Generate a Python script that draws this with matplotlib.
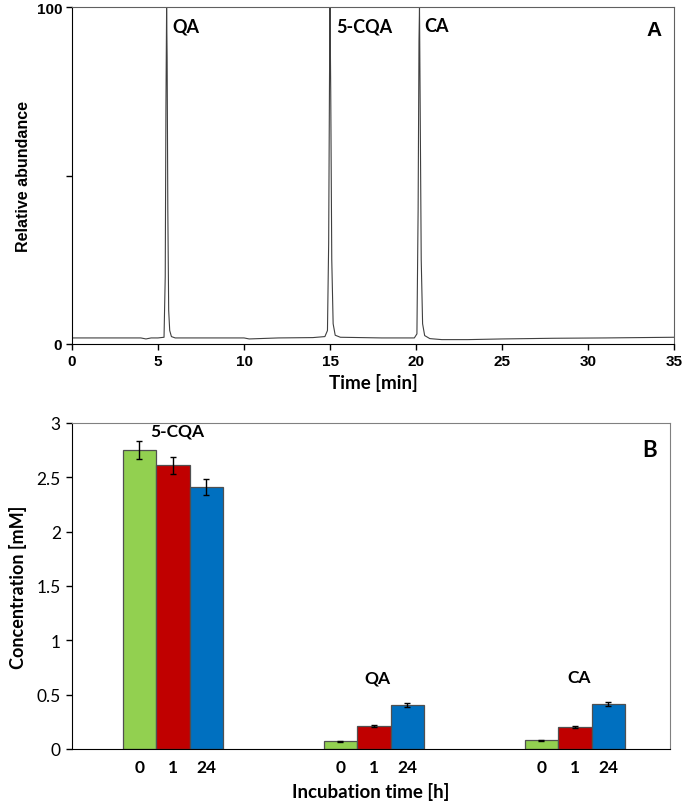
import matplotlib.pyplot as plt
import numpy as np

# chromatogram
time_min = [0.0, 2.0, 4.0, 4.3, 4.6, 5.0, 5.35, 5.42, 5.46, 5.5, 5.53, 5.57, 5.62, 5.68, 5.78, 6.0,
            8.0, 10.0, 10.3, 12.0, 14.0, 14.7, 14.85, 14.92, 14.97, 15.0, 15.04, 15.1, 15.18, 15.3, 15.6,
            18.0, 19.9, 20.05, 20.12, 20.17, 20.2, 20.24, 20.3, 20.38, 20.5, 20.8, 21.5, 23.0, 25.0,
            28.0, 31.0, 33.0, 35.0]
rel_abund = [1.8, 1.8, 1.8, 1.5, 1.8, 1.8, 2.0, 20.0, 70.0, 100.0, 85.0, 40.0, 10.0, 4.0, 2.2, 1.8,
             1.8, 1.8, 1.5, 1.8, 1.9, 2.2, 4.0, 30.0, 80.0, 100.0, 75.0, 25.0, 6.0, 2.6, 2.0,
             1.8, 1.8, 3.0, 40.0, 90.0, 100.0, 70.0, 25.0, 6.0, 2.5, 1.6, 1.3, 1.3, 1.5,
             1.7, 1.8, 1.9, 2.0]
peak_names = ['QA', '5-CQA', 'CA']
peak_label_x = [5.85, 15.35, 20.5]

# concentrations (panel B)
compounds = ['5-CQA', 'QA', 'CA']
hours = ['0', '1', '24']
conc_0h = [2.75, 0.07, 0.08]
conc_1h = [2.61, 0.215, 0.205]
conc_24h = [2.41, 0.405, 0.415]
err_0h = [0.085, 0.006, 0.006]
err_1h = [0.08, 0.01, 0.01]
err_24h = [0.077, 0.015, 0.02]
bar_colors = ['#92D050', '#C00000', '#0070C0']

calibri = ['Lato', 'DejaVu Sans']
arial = ['Liberation Sans', 'DejaVu Sans']

fig = plt.figure(figsize=(6.85, 8.04), dpi=100)

# ---- panel A ----
axA = fig.add_axes([0.1051, 0.5709, 0.879, 0.419])
axA.plot(time_min, rel_abund, color='#404040', lw=0.8)
axA.set_xlim(0, 35)
axA.set_ylim(0, 100)
axA.set_xticks(range(0, 36, 5))
axA.set_yticks([0, 50, 100])
axA.set_yticklabels(['0', '', '100'])
for lab in axA.get_xticklabels() + axA.get_yticklabels():
    lab.set_family(arial)
    lab.set_fontweight('bold')
    lab.set_fontsize(11)
axA.tick_params(direction='out', length=4, width=1, pad=3)
axA.set_xlabel('Time [min]', family=calibri, fontweight='bold', fontsize=13.5, labelpad=4)
axA.set_ylabel('Relative abundance', family=arial, fontweight='bold', fontsize=11.5, labelpad=4)
for name, x in zip(peak_names, peak_label_x):
    axA.text(x, 94.5, name, family=calibri, fontweight='bold', fontsize=13,
             va='center', ha='left')
axA.text(0.967, 0.935, 'A', transform=axA.transAxes, family=arial, fontweight='bold',
         fontsize=15, ha='center', va='center')
for s in ['top', 'right']:
    axA.spines[s].set_color('#606060')

# ---- panel B ----
axB = fig.add_axes([0.1051, 0.0672, 0.873, 0.4055])
w = 1 / 6
x = np.arange(len(compounds))
series = [(conc_0h, err_0h), (conc_1h, err_1h), (conc_24h, err_24h)]
tick_pos = []
tick_lab = []
for i, (vals, errs) in enumerate(series):
    pos = x + (i - 1) * w
    axB.bar(pos, vals, width=w, color=bar_colors[i], edgecolor='#505050', linewidth=0.9,
            yerr=errs, error_kw=dict(ecolor='black', elinewidth=1, capsize=2, capthick=1))
    tick_pos += list(pos)
    tick_lab += [hours[i]] * len(compounds)

axB.set_xlim(-0.502, 2.473)
axB.set_ylim(0, 3)
axB.set_yticks(np.arange(0, 3.01, 0.5))
axB.set_yticklabels(['0', '0.5', '1', '1.5', '2', '2.5', '3'])
axB.set_xticks(tick_pos)
axB.set_xticklabels(tick_lab)
for lab in axB.get_xticklabels():
    lab.set_family(calibri)
    lab.set_fontweight('bold')
    lab.set_fontsize(12.5)
for lab in axB.get_yticklabels():
    lab.set_family(calibri)
    lab.set_fontsize(12.5)
axB.tick_params(axis='x', length=0, pad=7)
axB.tick_params(axis='y', direction='out', length=4, width=1, pad=4)
axB.set_xlabel('Incubation time [h]', family=calibri, fontweight='bold', fontsize=13.5, labelpad=5)
axB.set_ylabel('Concentration [mM]', family=calibri, fontweight='bold', fontsize=13, labelpad=7)

label_y = [2.93, 0.66, 0.66]
for i, name in enumerate(compounds):
    axB.text(x[i] + 0.02, label_y[i], name, family=calibri, fontweight='bold',
             fontsize=12.5, ha='center', va='center')
axB.text(0.965, 0.92, 'B', transform=axB.transAxes, family=calibri, fontweight='bold',
         fontsize=16, ha='center', va='center')
for s in ['top', 'right']:
    axB.spines[s].set_color('#808080')

plt.savefig('out.png', dpi=100)
plt.close()
